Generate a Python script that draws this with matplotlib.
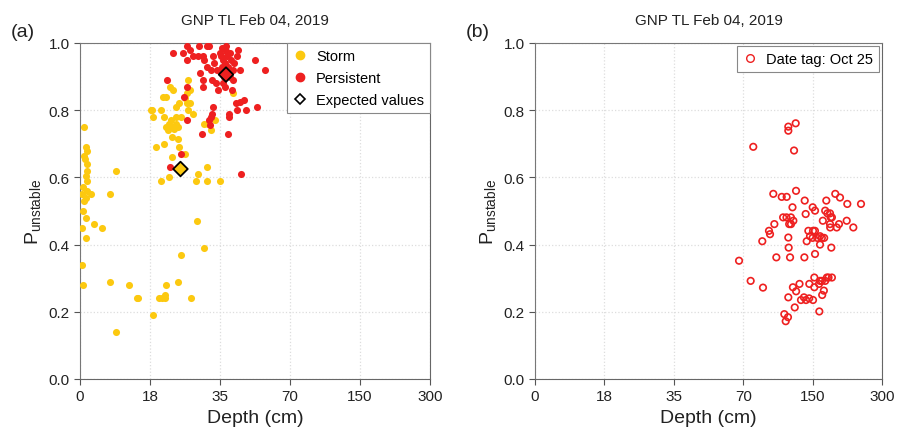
import numpy as np
import matplotlib
matplotlib.use('Agg')
import matplotlib.pyplot as plt
from matplotlib.lines import Line2D

plt.rcParams['font.family'] = ['Liberation Sans', 'DejaVu Sans']
plt.rcParams['mathtext.fontset'] = 'custom'
plt.rcParams['mathtext.rm'] = 'Liberation Sans'
plt.rcParams['mathtext.it'] = 'Liberation Sans:italic'

# -------------------------------
# data (depth in cm, P unstable)
# -------------------------------
depth_ticks = [0, 18, 35, 70, 150, 300]
p_ticks = [0.0, 0.2, 0.4, 0.6, 0.8, 1.0]

storm_depth = [1.0, 1.5, 1.7, 1.0, 1.3, 1.9, 9.2, 1.9, 1.5, 1.7, 0.8, 1.9, 2.8, 0.6, 7.7,
               1.5, 1.0, 0.8, 1.5, 3.6, 5.6, 0.6, 1.6, 0.4, 7.7, 0.8, 12.6, 14.7, 9.3,
               27.3, 22.9, 23.7, 27.6, 26.9, 41.3, 21.2, 21.9, 26.5, 25.0, 26.9, 27.7, 24.3,
               18.2, 18.6, 20.7, 27.2, 28.5, 18.8, 21.5, 24.3, 25.5, 33.8, 23.1, 22.7, 24.3,
               31.2, 32.2, 24.7, 21.9, 23.5, 22.3, 32.8, 23.8, 23.3, 24.7, 19.4, 21.3, 25.1,
               26.5, 23.3, 29.7, 31.8, 22.7, 20.7, 29.2, 31.8, 35.0, 29.5, 31.1, 25.5, 24.8,
               21.9, 20.3, 20.9, 21.6, 21.7, 27.9, 18.8, 14.8]
storm_p = [0.75, 0.69, 0.68, 0.665, 0.655, 0.64, 0.62, 0.62, 0.605, 0.59, 0.57, 0.56, 0.55, 0.55, 0.55,
           0.54, 0.53, 0.50, 0.48, 0.46, 0.45, 0.45, 0.42, 0.34, 0.29, 0.28, 0.28, 0.24, 0.14,
           0.89, 0.87, 0.86, 0.86, 0.85, 0.85, 0.84, 0.84, 0.835, 0.82, 0.82, 0.82, 0.81,
           0.80, 0.80, 0.80, 0.80, 0.79, 0.78, 0.78, 0.78, 0.78, 0.77, 0.77, 0.76, 0.76,
           0.76, 0.76, 0.75, 0.75, 0.75, 0.74, 0.74, 0.745, 0.72, 0.715, 0.69, 0.70, 0.69,
           0.67, 0.66, 0.61, 0.63, 0.60, 0.59, 0.59, 0.59, 0.59, 0.47, 0.39, 0.37, 0.29,
           0.28, 0.24, 0.24, 0.25, 0.24, 0.24, 0.19, 0.24]

pers_depth = [26.9, 29.9, 31.8, 32.4, 38.0, 26.1, 27.7, 23.6, 29.7, 30.9, 33.4, 44.2, 43.4,
              26.9, 52.5, 57.7, 35.0, 36.7, 37.5, 39.2, 31.8, 32.7, 34.2, 41.7, 45.0, 30.2,
              35.9, 40.0, 30.9, 33.0, 34.0, 22.2, 30.9, 34.4, 37.7, 40.9, 26.9, 26.3, 42.9,
              45.0, 47.2, 53.4, 43.4, 48.0, 33.2, 33.0, 32.7, 39.7, 39.7, 26.9, 32.4, 32.5,
              30.6, 39.0, 25.5, 22.9, 45.4, 36.0, 38.5, 40.5, 37.0, 41.5, 36.5, 39.0, 38.0,
              40.0, 35.5, 33.5, 42.0, 36.0, 31.0, 28.5]
pers_p = [0.99, 0.99, 0.99, 0.99, 0.99, 0.97, 0.98, 0.97, 0.96, 0.96, 0.96, 0.98, 0.96,
          0.95, 0.95, 0.92, 0.97, 0.95, 0.94, 0.93, 0.93, 0.92, 0.92, 0.92, 0.92, 0.91,
          0.91, 0.90, 0.89, 0.89, 0.88, 0.89, 0.87, 0.86, 0.87, 0.86, 0.87, 0.84, 0.82,
          0.825, 0.83, 0.81, 0.80, 0.80, 0.81, 0.79, 0.78, 0.79, 0.78, 0.77, 0.77, 0.756,
          0.73, 0.73, 0.67, 0.63, 0.61, 0.93, 0.96, 0.95, 0.90, 0.89, 0.88, 0.91, 0.975,
          0.97, 0.96, 0.94, 0.94, 0.985, 0.95, 0.96]

exp_depth = [25.4, 38.0]
exp_p = [0.625, 0.906]

oct_depth = [130.5, 122, 122, 81.6, 128.6,
             130.9, 104.7, 114.4, 120.1, 140.9, 179.6, 199, 209.2, 225, 254.6,
             126.8, 150.2, 155.2, 142, 177.2, 182, 187.6, 189.1,
             116, 119.9, 125, 127.8, 172.1, 191.7, 223.7,
             105.9, 125.1, 123, 187.6, 207, 202.1, 188, 238,
             99.7, 100.9, 145.1, 150.9, 155,
             150, 160, 166, 170, 175, 147,
             92, 122, 143.2, 166, 190.4, 122.4,
             155.2, 108.2, 124, 140.5, 67.9,
             78.6, 92.8,
             153.7, 166, 170, 180.8, 184.4, 191.7, 177.2,
             146.2, 153.7, 163.9, 127.3, 134.9, 131, 174.3, 170.7,
             122, 136.6, 140, 142.4, 146, 150.9,
             129.4, 164.5, 117.4, 121.6, 119]
oct_p = [0.761, 0.751, 0.739, 0.691, 0.68,
         0.56, 0.551, 0.542, 0.542, 0.531, 0.531, 0.551, 0.54, 0.521, 0.521,
         0.511, 0.511, 0.501, 0.491, 0.501, 0.493, 0.493, 0.481,
         0.481, 0.481, 0.481, 0.471, 0.471, 0.481, 0.471,
         0.461, 0.461, 0.461, 0.461, 0.461, 0.451, 0.451, 0.451,
         0.441, 0.431, 0.441, 0.441, 0.441,
         0.42, 0.42, 0.425, 0.42, 0.42, 0.425,
         0.41, 0.421, 0.41, 0.40, 0.391, 0.391,
         0.372, 0.362, 0.362, 0.362, 0.352,
         0.292, 0.272,
         0.302, 0.292, 0.292, 0.302, 0.302, 0.302, 0.292,
         0.283, 0.273, 0.283, 0.273, 0.283, 0.261, 0.263, 0.25,
         0.243, 0.235, 0.243, 0.235, 0.24, 0.235,
         0.213, 0.201, 0.193, 0.184, 0.172]

storm_color = '#fcc910'
pers_color = '#ee2020'

# -------------------------------
# depth axis: equal spacing between tick depths
# -------------------------------
units = np.arange(len(depth_ticks))


def fwd(x):
    return np.interp(x, depth_ticks, units)


def inv(u):
    return np.interp(u, units, depth_ticks)


def style_axes(ax):
    ax.set_xscale('function', functions=(fwd, inv))
    ax.set_xlim(0, 300)
    ax.set_ylim(0, 1.0)
    ax.set_xticks(depth_ticks)
    ax.set_xticklabels([str(t) for t in depth_ticks])
    ax.set_yticks(p_ticks)
    ax.set_yticklabels(['%.1f' % t for t in p_ticks])
    ax.minorticks_off()
    ax.grid(True, color='#dddddd', linestyle=':', linewidth=0.9)
    ax.set_axisbelow(True)
    for side in ['left', 'top']:
        ax.spines[side].set_linestyle((0, (1, 1)))
        ax.spines[side].set_color('#777777')
    for side in ['right', 'bottom']:
        ax.spines[side].set_color('#666666')
        ax.spines[side].set_linewidth(0.8)
    ax.tick_params(direction='out', length=4, color='#555555', labelsize=11,
                   labelcolor='#222222')
    ax.set_xlabel('Depth (cm)', fontsize=14, color='#222222')
    ax.set_ylabel(r'P$_{\mathrm{unstable}}$', fontsize=14, color='#222222')
    ax.set_title('GNP TL Feb 04, 2019', fontsize=11, color='#222222', pad=14)


fig = plt.figure(figsize=(8.99, 4.39), dpi=100)
ax1 = fig.add_axes([0.089, 0.1344, 0.3893, 0.7654])
ax2 = fig.add_axes([0.5951, 0.1344, 0.386, 0.7654])

# panel (a)
style_axes(ax1)
ax1.scatter(storm_depth, storm_p, s=26, color=storm_color, linewidths=0, zorder=3)
ax1.scatter(pers_depth, pers_p, s=26, color=pers_color, linewidths=0, zorder=3)
ax1.scatter(exp_depth, exp_p, s=55, marker='D', c=[storm_color, pers_color],
            edgecolors='k', linewidths=1.3, zorder=4)
handles = [
    Line2D([], [], marker='o', linestyle='', color=storm_color, markersize=6, label='Storm'),
    Line2D([], [], marker='o', linestyle='', color=pers_color, markersize=6, label='Persistent'),
    Line2D([], [], marker='D', linestyle='', markerfacecolor='white', markeredgecolor='k',
           markeredgewidth=1.2, markersize=5.5, label='Expected values'),
]
leg = ax1.legend(handles=handles, loc='upper right', fontsize=10.5, fancybox=False,
                 framealpha=1, edgecolor='#888888', borderaxespad=0,
                 handlelength=1.0, handletextpad=0.6, labelspacing=0.56, borderpad=0.4)
leg.get_frame().set_linewidth(0.8)
fig.text(0.012, 0.915, '(a)', fontsize=14, color='#222222')

# panel (b)
style_axes(ax2)
ax2.scatter(oct_depth, oct_p, s=22, facecolors='none', edgecolors=pers_color,
            linewidths=1.2, zorder=3)
h2 = [Line2D([], [], marker='o', linestyle='', markerfacecolor='none',
             markeredgecolor=pers_color, markeredgewidth=1.0, markersize=5.5,
             label='Date tag: Oct 25')]
leg2 = ax2.legend(handles=h2, loc='upper right', fontsize=10.5, fancybox=False,
                  framealpha=1, edgecolor='#888888', borderaxespad=0.2,
                  handlelength=1.0, handletextpad=0.6, borderpad=0.4)
leg2.get_frame().set_linewidth(0.8)
fig.text(0.518, 0.915, '(b)', fontsize=14, color='#222222')

fig.savefig('out.png', dpi=100)
